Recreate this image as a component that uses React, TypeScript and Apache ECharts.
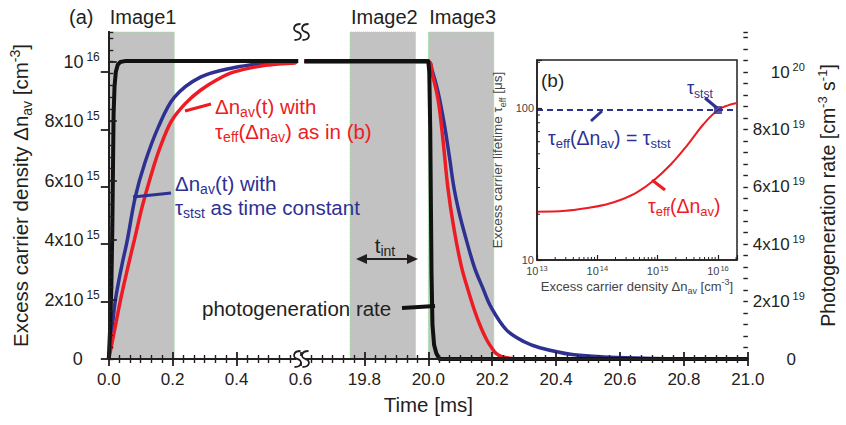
import React, { useEffect, useRef } from 'react';
import * as echarts from 'echarts';

const FONT = "'Liberation Sans', Arial, Helvetica, sans-serif";
const INK = '#231f20';
const RED = '#ed1c24';
const BLUE = '#2e3192';
const SHADE = '#c2c2c2';

// ---------- (a) main panel data ----------
// times in ms; densities in 1e15 cm^-3; generation rate in 1e20 cm^-3 s^-1
const blackRiseT = [0, 0.004, 0.008, 0.011, 0.013, 0.015, 0.018, 0.022, 0.028, 0.036, 0.05, 0.593];
const blackRiseG = [0, 0.1, 0.25, 0.45, 0.65, 0.85, 0.95, 1.0, 1.025, 1.035, 1.038, 1.038];
const blackFallT = [19.612, 20.0, 20.003, 20.006, 20.008, 20.01, 20.013, 20.018, 20.025, 20.035, 21.0];
const blackFallG = [1.038, 1.038, 1.0, 0.8, 0.55, 0.3, 0.12, 0.05, 0.02, 0, 0];

const blueRiseT = [0, 0.01, 0.021, 0.04, 0.058, 0.083, 0.113, 0.155, 0.205, 0.287, 0.39, 0.49, 0.59];
const blueRiseN = [0, 1.0, 2.0, 3.1, 4.0, 5.45, 6.6, 7.8, 8.8, 9.48, 9.8, 9.95, 9.99];
const blueFallT = [19.612, 20.0, 20.012, 20.03, 20.05, 20.066, 20.08, 20.096, 20.113, 20.144, 20.17, 20.196, 20.245, 20.3, 20.349, 20.45, 20.55, 20.65, 20.75, 21.0];
const blueFallN = [10, 10, 9.7, 9.0, 7.9, 6.8, 5.78, 4.95, 4.24, 3.09, 2.4, 1.75, 0.97, 0.58, 0.38, 0.15, 0.07, 0.03, 0.01, 0];

const redRiseT = [0, 0.015, 0.037, 0.06, 0.08, 0.104, 0.13, 0.16, 0.196, 0.24, 0.287, 0.34, 0.39, 0.49, 0.585];
const redRiseN = [0, 0.8, 2.0, 3.1, 4.0, 5.1, 6.1, 7.1, 8.0, 8.6, 9.04, 9.4, 9.65, 9.88, 9.96];
const redFallT = [19.612, 20.0, 20.012, 20.031, 20.046, 20.061, 20.08, 20.104, 20.125, 20.144, 20.165, 20.183, 20.2, 20.211, 20.23, 20.26, 20.3, 21.0];
const redFallN = [10, 10, 9.6, 8.7, 7.36, 5.78, 4.4, 3.09, 2.3, 1.65, 1.05, 0.64, 0.35, 0.2, 0.08, 0.02, 0, 0];

const imageLabels = ['Image1', 'Image2', 'Image3'];
const imageStart = [0, 19.755, 20.0];
const imageEnd = [0.205, 19.96, 20.205];

const xTickLabels = ['0.0', '0.2', '0.4', '0.6', '19.8', '20.0', '20.2', '20.4', '20.6', '20.8', '21.0'];
const leftTickLabels = ['0', '2x10^15', '4x10^15', '6x10^15', '8x10^15', '10^16'];
const rightTickLabels = ['0', '2x10^19', '4x10^19', '6x10^19', '8x10^19', '10^20'];

// ---------- (b) inset data ----------
const insetDensity = [1e13, 3e13, 6.8e13, 1.4e14, 2.4e14, 4.6e14, 8.6e14, 1.65e15, 3.16e15, 5.8e15, 1e16, 1.5e16, 2.07e16];
const insetTauEff = [20.8, 21.1, 22.0, 23.2, 24.8, 28.0, 33.4, 42.5, 57.5, 78.5, 97.0, 104.5, 108];
const ststDensityRange = [1e13, 2.07e16];
const tauStst = 97;
const ststPoint = [1e16, 97];
const insetXTickLabels = ['10^13', '10^14', '10^15', '10^16'];
const insetYTickLabels = ['10', '100'];

// broken time axis: 0.6 ms and 19.6 ms meet at the break
const BREAK_AT = 0.6;
const HIDDEN = 19;
const toAxis = (t: number) => (t <= BREAK_AT ? t : t - HIDDEN);

const N15 = 1e15;
const G20 = 1e20;

function seriesData(riseT: number[], riseV: number[], fallT: number[], fallV: number[], scale: number) {
  const a: any[] = riseT.map((t, i) => [toAxis(t), riseV[i] * scale]);
  a.push([BREAK_AT, '-']);
  fallT.forEach((t, i) => a.push([toAxis(t), fallV[i] * scale]));
  return a;
}

function supLabel(label: string, b = 'b', s = 's') {
  const [m, e] = label.split('^');
  return e ? `{${b}|${m}}{${s}|${e}}` : `{${b}|${m}}`;
}

const mainTickRich = {
  b: { fontSize: 18, lineHeight: 22, fontFamily: FONT, color: INK },
  s: { fontSize: 12, lineHeight: 14, verticalAlign: 'top', fontFamily: FONT, color: INK, padding: [0, 0, 0, 3] },
  z: { fontSize: 18, lineHeight: 22, fontFamily: FONT, color: INK, padding: [0, 17, 0, 0] },
};
const rightTickRich = {
  b: { fontSize: 17, lineHeight: 22, fontFamily: FONT, color: INK },
  s: { fontSize: 11, lineHeight: 14, verticalAlign: 'top', fontFamily: FONT, color: INK, padding: [0, 0, 0, 3] },
  z: { fontSize: 17, lineHeight: 22, fontFamily: FONT, color: INK, padding: [0, 9, 0, 0] },
};
const nameRich = (size: number, color: string) => ({
  n: { fontSize: size, lineHeight: size + 5, fontFamily: FONT, color },
  sb: { fontSize: Math.round(size * 0.68), lineHeight: size * 0.6, verticalAlign: 'bottom', fontFamily: FONT, color },
  sp: { fontSize: Math.round(size * 0.68), lineHeight: size * 0.6, verticalAlign: 'top', fontFamily: FONT, color },
});
const insetTickRich = {
  b: { fontSize: 11, lineHeight: 14, fontFamily: FONT, color: '#444' },
  s: { fontSize: 7.5, lineHeight: 8, verticalAlign: 'top', fontFamily: FONT, color: '#444', padding: [0, 0, 0, 1] },
};

function logLabel(v: number, labels: string[], first: number) {
  const lg = Math.log10(v);
  const e = Math.round(lg);
  if (Math.abs(lg - e) > 1e-6) return '';
  const l = labels[e - first];
  return l ? supLabel(l) : '';
}

const tickLine = { color: INK, width: 1.8 };
const minorLine = { color: INK, width: 1.4 };

const option: any = {
  animation: false,
  backgroundColor: '#ffffff',
  textStyle: { fontFamily: FONT },
  grid: [
    { left: 106, right: 86, top: 32, bottom: 66 },
    { left: 537, top: 60, width: 200, height: 200, show: true, backgroundColor: '#ffffff', borderColor: INK, borderWidth: 1.5 },
  ],
  xAxis: [
    {
      gridIndex: 0, type: 'value', min: 0, max: 2, interval: 0.2, position: 'bottom', z: 3,
      axisLine: { lineStyle: { color: INK, width: 2 } },
      axisTick: { inside: true, length: 7, lineStyle: tickLine },
      minorTick: { show: true, splitNumber: 6, length: 4, lineStyle: minorLine },
      splitLine: { show: false },
      axisLabel: {
        margin: 12, fontSize: 17, color: INK, fontFamily: FONT,
        formatter: (v: number) => xTickLabels[Math.round(v / 0.2)] ?? '',
      },
      name: 'Time [ms]', nameLocation: 'middle', nameGap: 35,
      nameTextStyle: { fontSize: 20.5, color: INK, fontFamily: FONT },
    },
    {
      gridIndex: 0, type: 'value', min: 0, max: 2, interval: 0.2, position: 'top', z: 3,
      axisLine: { lineStyle: { color: INK, width: 2 } },
      axisTick: { inside: true, length: 7, lineStyle: tickLine },
      minorTick: { show: true, splitNumber: 6, length: 4, lineStyle: minorLine },
      splitLine: { show: false },
      axisLabel: { show: false },
    },
    {
      gridIndex: 1, type: 'log', logBase: 10, min: 1e13, max: 2.07e16, z: 3,
      axisLine: { lineStyle: { color: INK, width: 1.5 } },
      axisTick: { inside: true, length: 5, lineStyle: { color: INK, width: 1.2 } },
      splitLine: { show: false },
      axisLabel: {
        margin: 4, fontSize: 11, color: '#444', fontFamily: FONT, rich: insetTickRich,
        formatter: (v: number) => logLabel(v, insetXTickLabels, 13),
      },
      name: '{n|Excess carrier density Δn}{sb|av}{n| [cm}{sp|-3}{n|]}',
      nameLocation: 'middle', nameGap: 17,
      nameTextStyle: { fontSize: 13, color: '#444', fontFamily: FONT, rich: nameRich(13, '#444') },
    },
  ],
  yAxis: [
    {
      gridIndex: 0, type: 'value', min: 0, max: 1.1e16, interval: 2e15, position: 'left', z: 3,
      axisLine: { show: true, lineStyle: { color: INK, width: 2 } },
      axisTick: { show: true, inside: true, length: 8, lineStyle: tickLine },
      splitLine: { show: false },
      axisLabel: {
        margin: 9, fontSize: 18, color: INK, fontFamily: FONT, rich: mainTickRich, showMaxLabel: false,
        formatter: (v: number) => {
          const l = leftTickLabels[Math.round(v / 2e15)];
          if (!l || Math.abs(v / 2e15 - Math.round(v / 2e15)) > 1e-6) return '';
          return l === '0' ? '{z|0}' : supLabel(l);
        },
      },
      name: '{n|Excess carrier density Δn}{sb|av}{n| [cm}{sp|-3}{n|]}',
      nameLocation: 'middle', nameGap: 70, nameRotate: 90,
      nameTextStyle: { fontSize: 20.5, color: INK, fontFamily: FONT, rich: nameRich(20.5, INK) },
    },
    {
      gridIndex: 0, type: 'value', min: 0, max: 1.1394e20, interval: 2e19, position: 'right', z: 3,
      axisLine: { show: true, lineStyle: { color: INK, width: 2 } },
      axisTick: { show: true, inside: true, length: 8, lineStyle: tickLine },
      splitLine: { show: false },
      axisLabel: {
        margin: 57, align: 'right', fontSize: 17, color: INK, fontFamily: FONT, rich: rightTickRich, showMaxLabel: false,
        formatter: (v: number) => {
          const l = rightTickLabels[Math.round(v / 2e19)];
          if (!l || Math.abs(v / 2e19 - Math.round(v / 2e19)) > 1e-6) return '';
          return l === '0' ? '{z|0}' : supLabel(l);
        },
      },
      name: '{n|Photogeneration rate [cm}{sp|-3}{n| s}{sp|-1}{n|]}',
      nameLocation: 'middle', nameGap: 63, nameRotate: 90,
      nameTextStyle: { fontSize: 19.5, color: INK, fontFamily: FONT, rich: nameRich(19.5, INK) },
    },
    {
      gridIndex: 0, type: 'value', min: 0, max: 1.1e16, interval: 4e14, position: 'left', z: 3,
      axisLine: { show: false }, axisLabel: { show: false }, splitLine: { show: false },
      axisTick: { show: true, inside: true, length: 4.5, lineStyle: minorLine },
    },
    {
      gridIndex: 0, type: 'value', min: 0, max: 1.1394e20, interval: 4e18, position: 'right', z: 3,
      axisLine: { show: false }, axisLabel: { show: false }, splitLine: { show: false },
      axisTick: { show: true, inside: true, length: 4.5, lineStyle: minorLine },
    },
    {
      gridIndex: 1, type: 'log', logBase: 10, min: 10, max: 207, z: 3,
      axisLine: { show: true, lineStyle: { color: INK, width: 1.5 } },
      axisTick: { show: true, inside: true, length: 5, lineStyle: { color: INK, width: 1.2 } },
      splitLine: { show: false },
      axisLabel: {
        margin: 3, fontSize: 11, color: '#444', fontFamily: FONT, rich: insetTickRich,
        formatter: (v: number) => logLabel(v, insetYTickLabels, 1),
      },
      name: '{n|Excess carrier lifetime τ}{sb|eff}{n| [μs]}',
      nameLocation: 'middle', nameGap: 30, nameRotate: 90,
      nameTextStyle: { fontSize: 13.5, color: '#444', fontFamily: FONT, rich: nameRich(13.5, '#444') },
    },
  ],
  series: [
    {
      type: 'line', xAxisIndex: 0, yAxisIndex: 0, data: [], silent: true, z: 1,
      markArea: {
        silent: true,
        itemStyle: { color: SHADE, borderColor: '#a3dba3', borderWidth: 1, borderType: 'dotted' },
        data: imageStart.map((s, i) => [{ xAxis: toAxis(s) }, { xAxis: toAxis(imageEnd[i]) }]),
      },
    },
    {
      type: 'line', xAxisIndex: 0, yAxisIndex: 0, symbol: 'none', silent: true, z: 2,
      smooth: 0.35, connectNulls: false,
      lineStyle: { color: BLUE, width: 3.5 },
      data: seriesData(blueRiseT, blueRiseN, blueFallT, blueFallN, N15),
    },
    {
      type: 'line', xAxisIndex: 0, yAxisIndex: 0, symbol: 'none', silent: true, z: 2,
      smooth: 0.35, connectNulls: false,
      lineStyle: { color: RED, width: 3.5 },
      data: seriesData(redRiseT, redRiseN, redFallT, redFallN, N15),
    },
    {
      type: 'line', xAxisIndex: 0, yAxisIndex: 1, symbol: 'none', silent: true, z: 2,
      smooth: false, connectNulls: false,
      lineStyle: { color: '#111', width: 4, join: 'round' },
      data: seriesData(blackRiseT, blackRiseG, blackFallT, blackFallG, G20),
    },
    {
      type: 'line', xAxisIndex: 2, yAxisIndex: 4, symbol: 'none', silent: true, z: 2,
      smooth: 0.4,
      lineStyle: { color: RED, width: 2 },
      data: insetDensity.map((d, i) => [d, insetTauEff[i]]),
    },
    {
      type: 'line', xAxisIndex: 2, yAxisIndex: 4, symbol: 'none', silent: true, z: 2,
      lineStyle: { color: BLUE, width: 2, type: [6, 4] },
      data: ststDensityRange.map((d) => [d, tauStst]),
    },
    {
      type: 'scatter', xAxisIndex: 2, yAxisIndex: 4, silent: true, z: 3,
      symbol: 'rect', symbolSize: 8, itemStyle: { color: BLUE },
      data: [ststPoint],
    },
    {
      // logarithmic minor ticks of the inset axes
      type: 'custom', coordinateSystem: 'cartesian2d', xAxisIndex: 2, yAxisIndex: 4, silent: true, z: 3, clip: false,
      data: (() => {
        const out: any[] = [];
        for (let e = 13; e <= 16; e++) for (let m = 2; m <= 9; m++) if (m * 10 ** e <= 2.07e16) out.push([m * 10 ** e, 10, 0]);
        for (let e = 1; e <= 2; e++) for (let m = 2; m <= 9; m++) if (m * 10 ** e <= 207) out.push([1e13, m * 10 ** e, 1]);
        return out;
      })(),
      renderItem: (_p: any, api: any) => {
        const p = api.coord([api.value(0), api.value(1)]);
        const vertical = api.value(2) === 0;
        return {
          type: 'line',
          shape: vertical
            ? { x1: p[0], y1: p[1], x2: p[0], y2: p[1] - 3 }
            : { x1: p[0], y1: p[1], x2: p[0] + 3, y2: p[1] },
          style: { stroke: INK, lineWidth: 1 },
        };
      },
    },
  ],
};

function richText(size: number, color: string) {
  return {
    a: { fontSize: size, lineHeight: size + 5, fontFamily: FONT, fill: color },
    s: { fontSize: Math.round(size * 0.68), lineHeight: size * 0.6, verticalAlign: 'bottom', fontFamily: FONT, fill: color },
  };
}

function text(x: number, y: number, content: string, size: number, color: string, align = 'left') {
  return {
    type: 'text', x, y, z: 30, silent: true,
    style: {
      text: content, fill: color, fontSize: size, fontFamily: FONT,
      align, textAlign: align, verticalAlign: 'middle', textVerticalAlign: 'middle',
      rich: richText(size, color),
    },
  };
}

function seg(x1: number, y1: number, x2: number, y2: number, color: string, w: number) {
  return { type: 'line', z: 30, silent: true, shape: { x1, y1, x2, y2 }, style: { stroke: color, lineWidth: w } };
}

export default function App() {
  const ref = useRef<HTMLDivElement>(null);
  useEffect(() => {
    if (!ref.current) return;
    echarts.graphic.registerShape('brkS', echarts.graphic.extendPath('M3 -8 C-5 -8 -5 -1 0 0 C5 1 5 8 -3 8', {}) as any);
    const chart = echarts.init(ref.current, null, { renderer: 'svg' });
    chart.setOption(option);

    const bx = chart.convertToPixel({ xAxisIndex: 0 }, BREAK_AT) as number;
    const yTop = chart.convertToPixel({ yAxisIndex: 0 }, 1.1e16) as number;
    const yBot = chart.convertToPixel({ yAxisIndex: 0 }, 0) as number;
    const breakEls: any[] = [];
    [yTop, yBot].forEach((y) => {
      breakEls.push({ type: 'rect', z: 31, silent: true, shape: { x: bx - 4, y: y - 3, width: 9, height: 6 }, style: { fill: '#fff' } });
      breakEls.push({ type: 'brkS', z: 32, silent: true, x: bx - 3, y, style: { stroke: INK, lineWidth: 1.8, fill: 'none' } });
      breakEls.push({ type: 'brkS', z: 32, silent: true, x: bx + 5, y, style: { stroke: INK, lineWidth: 1.8, fill: 'none' } });
    });

    const imgX = imageStart.map((s) => chart.convertToPixel({ xAxisIndex: 0 }, toAxis(s)) as number);

    const graphic: any[] = [
      text(69, 17, '{a|(a)}', 20, INK),
      ...imageLabels.map((l, i) => text(imgX[i] + 1, 17, `{a|${l}}`, 20, INK)),
      text(215, 106, '{a|Δn}{s|av}{a|(t) with}', 20.5, RED),
      text(215, 131, '{a|τ}{s|eff}{a|(Δn}{s|av}{a|) as in (b)}', 20.5, RED),
      seg(185, 111, 211, 104, RED, 3),
      text(175, 183, '{a|Δn}{s|av}{a|(t) with}', 20.5, BLUE),
      text(175, 207, '{a|τ}{s|stst}{a| as time constant}', 20.5, BLUE),
      seg(133, 197, 171, 193, BLUE, 3),
      text(202, 308, '{a|photogeneration rate}', 20.5, INK),
      seg(402, 308, 435, 306, '#111', 4),
      text(385, 245, '{a|t}{s|int}', 20.5, INK, 'center'),
      seg(362, 259, 412, 259, INK, 2),
      { type: 'polygon', z: 30, silent: true, shape: { points: [[356, 259], [367, 254], [367, 264]] }, style: { fill: INK } },
      { type: 'polygon', z: 30, silent: true, shape: { points: [[418, 259], [407, 254], [407, 264]] }, style: { fill: INK } },
      // inset annotations
      text(541, 80, '{a|(b)}', 19, INK),
      text(687, 88, '{a|τ}{s|stst}', 18, BLUE),
      seg(705, 98, 717, 108, BLUE, 3),
      text(548, 138, '{a|τ}{s|eff}{a|(Δn}{s|av}{a|) = τ}{s|stst}', 19.5, BLUE),
      seg(602, 111, 591, 121, BLUE, 3),
      text(648, 206, '{a|τ}{s|eff}{a|(Δn}{s|av}{a|)}', 19.5, RED),
      seg(652, 180, 665, 190, RED, 3),
      ...breakEls,
    ];
    chart.setOption({ graphic });
    return () => chart.dispose();
  }, []);
  return <div ref={ref} style={{ position: 'absolute', left: 0, top: 0, width: 846, height: 425 }} />;
}
